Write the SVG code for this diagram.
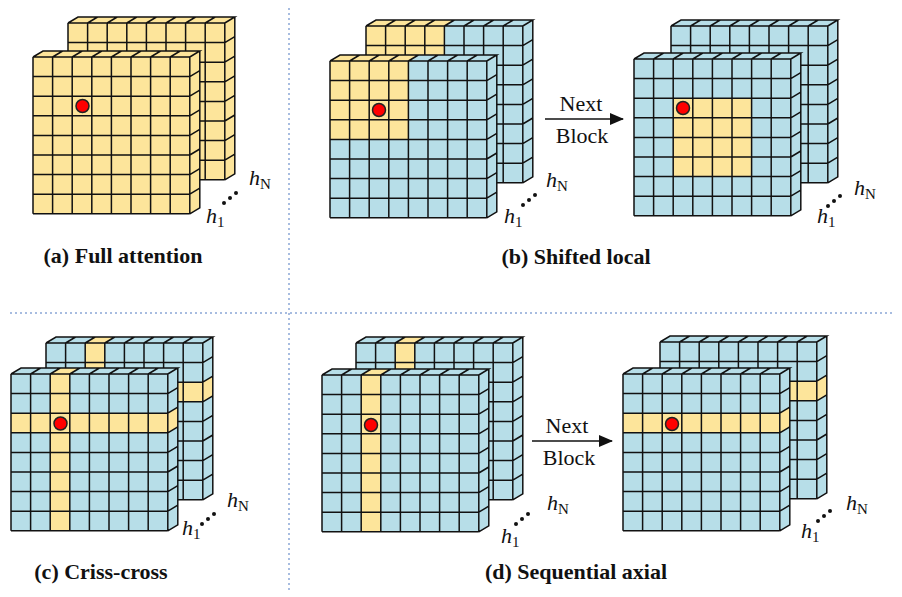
<svg xmlns="http://www.w3.org/2000/svg" width="902" height="597" viewBox="0 0 902 597">
<style>
.bl{fill:#B7DEE8}
.ye{fill:#FDE59B}
.gl{fill:none;stroke:#111;stroke-width:1.5;stroke-linejoin:miter}
.dot{fill:#FF0000;stroke:#222;stroke-width:1.5}
.sep{stroke:#8AA6D6;stroke-width:1.5;stroke-dasharray:2 3;fill:none}
.cap{font-family:"Liberation Serif","Times New Roman",serif;font-weight:bold;font-size:22px;fill:#111;text-anchor:middle}
.nb{font-family:"Liberation Serif","Times New Roman",serif;font-size:22px;fill:#111;text-anchor:middle}
.h{font-family:"Liberation Serif","Times New Roman",serif;font-style:italic;font-size:22px;fill:#111}
.sub{font-style:normal;font-size:15px}
.arr{stroke:#111;stroke-width:1.5;fill:none}
.dd{fill:#111}
</style>
<defs>
<g id="shape"><rect x="0" y="0" width="156.8" height="156.8"/><polygon points="0,0 156.8,0 166.8,-6 10,-6"/><polygon points="156.8,0 166.8,-6 166.8,150.8 156.8,156.8"/></g>
<path id="gl" class="gl" d="M0,0V156.8M19.6,0V156.8M39.2,0V156.8M58.8,0V156.8M78.4,0V156.8M98,0V156.8M117.6,0V156.8M137.2,0V156.8M156.8,0V156.8M0,0H156.8M0,19.6H156.8M0,39.2H156.8M0,58.8H156.8M0,78.4H156.8M0,98H156.8M0,117.6H156.8M0,137.2H156.8M0,156.8H156.8M0,0L10,-6H166.8L156.8,0M19.6,0l10,-6M39.2,0l10,-6M58.8,0l10,-6M78.4,0l10,-6M98,0l10,-6M117.6,0l10,-6M137.2,0l10,-6M166.8,-6V150.8L156.8,156.8M156.8,19.6l10,-6M156.8,39.2l10,-6M156.8,58.8l10,-6M156.8,78.4l10,-6M156.8,98l10,-6M156.8,117.6l10,-6M156.8,137.2l10,-6"/>
<g id="col2"><rect x="39.2" y="0" width="19.6" height="156.8"/><polygon points="39.2,0 58.8,0 68.8,-6 49.2,-6"/></g>
<g id="row2"><rect x="0" y="39.2" width="156.8" height="19.6"/><polygon points="156.8,39.2 166.8,33.2 166.8,52.8 156.8,58.8"/></g>
<g id="tl4"><rect x="0" y="0" width="78.4" height="78.4"/><polygon points="0,0 78.4,0 88.4,-6 10,-6"/></g>
<g id="dots"><circle cx="0" cy="0" r="2"/><circle cx="6" cy="-5" r="2"/><circle cx="12" cy="-10" r="2"/></g>
<marker id="ah" markerWidth="14" markerHeight="12" refX="13" refY="6" orient="auto" markerUnits="userSpaceOnUse"><path d="M0,0L14,6L0,12z" fill="#111"/></marker>
</defs>

<g id="separators">
<line class="sep" x1="289" y1="8" x2="289" y2="590"/>
<line class="sep" x1="10" y1="313" x2="893" y2="313"/>
</g>

<g id="panel-a">
<g id="a-back" transform="translate(68,23)"><use href="#shape" class="ye"/><use href="#gl"/></g>
<g id="a-front" transform="translate(33,57)"><use href="#shape" class="ye"/><use href="#gl"/><circle class="dot" cx="49.5" cy="49" r="6.5"/></g>
<text class="h" x="249" y="185">h<tspan class="sub" dy="4">N</tspan></text>
<text class="h" x="206" y="223">h<tspan class="sub" dy="4">1</tspan></text>
<use href="#dots" class="dd" transform="translate(224,203)"/>
<text class="cap" x="123" y="263">(a) Full attention</text>
</g>

<g id="panel-b1">
<g id="b1-back" transform="translate(366,26)"><use href="#shape" class="bl"/><use href="#tl4" class="ye"/><use href="#gl"/></g>
<g id="b1-front" transform="translate(330,61)"><use href="#shape" class="bl"/><use href="#tl4" class="ye"/><use href="#gl"/><circle class="dot" cx="49" cy="49" r="6.5"/></g>
<text class="h" x="546" y="187">h<tspan class="sub" dy="4">N</tspan></text>
<text class="h" x="504" y="223">h<tspan class="sub" dy="4">1</tspan></text>
<use href="#dots" class="dd" transform="translate(523,205)"/>
</g>

<g id="arrow-b">
<line class="arr" x1="545" y1="119" x2="623" y2="119" marker-end="url(#ah)"/>
<text class="nb" x="581" y="111">Next</text>
<text class="nb" x="582" y="143">Block</text>
</g>

<g id="panel-b2">
<g id="b2-back" transform="translate(671,26)"><use href="#shape" class="bl"/><use href="#gl"/></g>
<g id="b2-front" transform="translate(634,59)"><use href="#shape" class="bl"/><rect class="ye" x="39.2" y="39.2" width="78.4" height="78.4"/><use href="#gl"/><circle class="dot" cx="49" cy="49" r="6.5"/></g>
<text class="h" x="854" y="195">h<tspan class="sub" dy="4">N</tspan></text>
<text class="h" x="817" y="223">h<tspan class="sub" dy="4">1</tspan></text>
<use href="#dots" class="dd" transform="translate(828,206)"/>
<text class="cap" x="576" y="264">(b) Shifted local</text>
</g>

<g id="panel-c">
<g id="c-back" transform="translate(46,343)"><use href="#shape" class="bl"/><use href="#col2" class="ye"/><use href="#row2" class="ye"/><use href="#gl"/></g>
<g id="c-front" transform="translate(11,374)"><use href="#shape" class="bl"/><use href="#col2" class="ye"/><use href="#row2" class="ye"/><use href="#gl"/><circle class="dot" cx="49.5" cy="49.5" r="6.5"/></g>
<text class="h" x="227" y="507">h<tspan class="sub" dy="4">N</tspan></text>
<text class="h" x="182" y="535">h<tspan class="sub" dy="4">1</tspan></text>
<use href="#dots" class="dd" transform="translate(202,524)"/>
<text class="cap" x="101" y="579">(c) Criss-cross</text>
</g>

<g id="panel-d1">
<g id="d1-back" transform="translate(356,343)"><use href="#shape" class="bl"/><use href="#col2" class="ye"/><use href="#gl"/></g>
<g id="d1-front" transform="translate(322,375)"><use href="#shape" class="bl"/><use href="#col2" class="ye"/><use href="#gl"/><circle class="dot" cx="49" cy="50" r="6.5"/></g>
<text class="h" x="547" y="510">h<tspan class="sub" dy="4">N</tspan></text>
<text class="h" x="501" y="543">h<tspan class="sub" dy="4">1</tspan></text>
<use href="#dots" class="dd" transform="translate(516,524)"/>
</g>

<g id="arrow-d">
<line class="arr" x1="532" y1="441" x2="612" y2="441" marker-end="url(#ah)"/>
<text class="nb" x="567" y="433">Next</text>
<text class="nb" x="569" y="465">Block</text>
</g>

<g id="panel-d2">
<g id="d2-back" transform="translate(660,342)"><use href="#shape" class="bl"/><use href="#row2" class="ye"/><use href="#gl"/></g>
<g id="d2-front" transform="translate(623,374)"><use href="#shape" class="bl"/><use href="#row2" class="ye"/><use href="#gl"/><circle class="dot" cx="49" cy="50" r="6.5"/></g>
<text class="h" x="846" y="510">h<tspan class="sub" dy="4">N</tspan></text>
<text class="h" x="801" y="538">h<tspan class="sub" dy="4">1</tspan></text>
<use href="#dots" class="dd" transform="translate(818,521)"/>
<text class="cap" x="576" y="579">(d) Sequential axial</text>
</g>
</svg>
